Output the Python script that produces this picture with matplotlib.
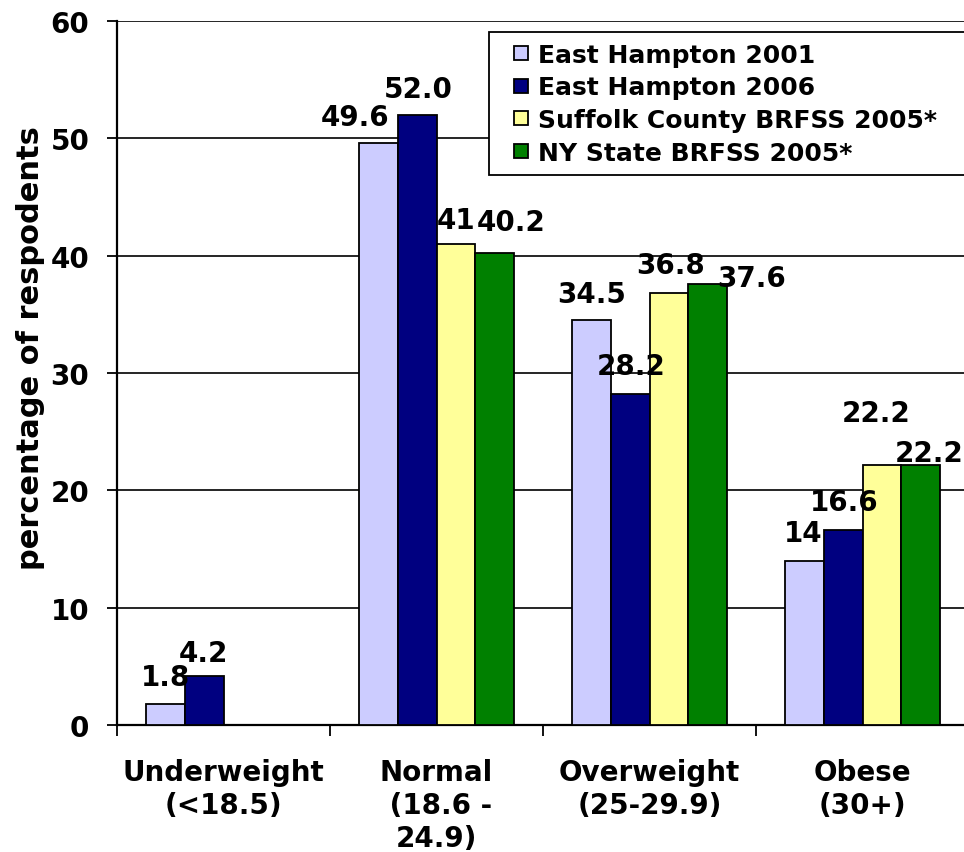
import matplotlib
matplotlib.use('Agg')
import numpy as np
import matplotlib.pyplot as plt
from matplotlib.patches import Rectangle
from matplotlib.container import BarContainer
from matplotlib.legend_handler import HandlerPatch

# data
categories = ['Underweight\n(<18.5)', 'Normal\n (18.6 -\n24.9)', 'Overweight\n(25-29.9)', 'Obese\n(30+)']
series_names = ['East Hampton 2001', 'East Hampton 2006',
                'Suffolk County BRFSS 2005*', 'NY State BRFSS 2005*']
eh_2001 = [1.8, 49.6, 34.5, 14]
eh_2006 = [4.2, 52.0, 28.2, 16.6]
suffolk_2005 = [np.nan, 41, 36.8, 22.2]
nys_2005 = [np.nan, 40.2, 37.6, 22.2]
eh_2001_text = ['1.8', '49.6', '34.5', '14']
eh_2006_text = ['4.2', '52.0', '28.2', '16.6']
suffolk_text = ['', '41', '36.8', '22.2']
nys_text = ['', '40.2', '37.6', '22.2']
yticks = [0, 10, 20, 30, 40, 50, 60]

series = [eh_2001, eh_2006, suffolk_2005, nys_2005]
texts = [eh_2001_text, eh_2006_text, suffolk_text, nys_text]
colors = ['#CCCCFF', '#000080', '#FFFF99', '#008000']

# label nudges in pixels (dx, dy) as placed in the original
label_offsets = [
    [(0, 27), (-24, 26), (0, 26), (-1, 28)],
    [(-1, 23), (1, 26), (1, 28), (1, 28)],
    [(0, 0), (0, 24), (2, 28), (-6, 52)],
    [(0, 0), (17, 31), (44, 6), (9, 12)],
]

bold = dict(family='DejaVu Sans', weight='bold')

fig = plt.figure(figsize=(9.64, 8.53), dpi=100)
ax = fig.add_axes([117 / 964, 1 - 726 / 853, 852 / 964, 704 / 853])

x = np.arange(len(categories))
width = 0.181
for i, (vals, col) in enumerate(zip(series, colors)):
    pos = x + (i - 1.5) * width
    bars = ax.bar(pos, vals, width, color=col, edgecolor='black', linewidth=1.3,
                  label=series_names[i], zorder=3)
    for j, b in enumerate(bars):
        if np.isnan(vals[j]):
            continue
        dx, dy = label_offsets[i][j]
        ax.annotate(texts[i][j], (b.get_x() + b.get_width() / 2, vals[j]),
                    xytext=(dx, dy), textcoords='offset pixels',
                    ha='center', va='center', fontsize=20, zorder=5, **bold)

ax.set_xlim(-0.5, 3.5)
ax.set_ylim(0, 60)
ax.set_yticks(yticks)
ax.set_yticklabels([str(t) for t in yticks], fontsize=20, **bold)
ax.yaxis.grid(True, color='black', linewidth=1.2)
ax.set_axisbelow(True)

# category boundaries as major ticks, names on minor ticks
ax.set_xticks(np.arange(-0.5, 3.5, 1.0))
ax.set_xticklabels([])
ax.set_xticks(x, minor=True)
ax.set_xticklabels(categories, minor=True, fontsize=20, linespacing=1.23, **bold)
ax.tick_params(axis='x', which='major', direction='out', length=8, width=1.3)
ax.tick_params(axis='x', which='minor', length=0, pad=24)
ax.tick_params(axis='y', direction='out', length=7, width=1.3, pad=13)

for side in ['top', 'right']:
    ax.spines[side].set_visible(False)
for side in ['left', 'bottom']:
    ax.spines[side].set_linewidth(1.6)

fig.text(31 / 964, 1 - 348 / 853, 'percentage of respodents', rotation=90,
         ha='center', va='center', fontsize=22, **bold)


def square_handle(legend, orig_handle, xdescent, ydescent, width, height, fontsize):
    s = 14 * 72 / 100.0
    return Rectangle((-xdescent + width - s, -ydescent + (height - s) / 2), s, s)


def copy_bar_style(legend_patch, orig_handle):
    legend_patch.update_from(orig_handle.patches[0])


leg = ax.legend(loc='upper left',
                bbox_to_anchor=(489 / 964, 1 - 178 / 853, 520 / 964, 145 / 853),
                bbox_transform=fig.transFigure, mode='expand',
                prop=dict(size=18, **bold),
                frameon=True, fancybox=False, shadow=False, borderpad=0.42,
                labelspacing=0.35, handlelength=1.12, handleheight=0.7,
                handletextpad=0.4, borderaxespad=0,
                handler_map={BarContainer: HandlerPatch(patch_func=square_handle,
                                                        update_func=copy_bar_style)})
leg.get_frame().set_edgecolor('black')
leg.get_frame().set_linewidth(1.3)
leg.get_frame().set_alpha(None)

fig.savefig('out.png', dpi=100)
